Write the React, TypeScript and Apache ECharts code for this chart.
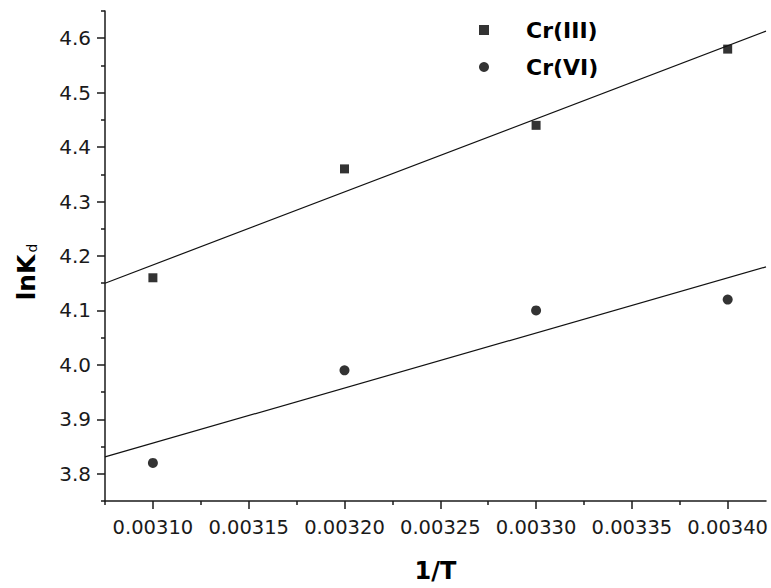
import React, { useEffect, useRef } from "react";
import * as echarts from "echarts";

const xValues = [0.0031, 0.0032, 0.0033, 0.0034];
const crIII = [4.16, 4.36, 4.44, 4.58];
const crVI = [3.82, 3.99, 4.1, 4.12];
// fitted straight lines, ends read at the plot's left and right edges
const fitX = [0.003075, 0.00342];
const fitIII = [4.15, 4.613];
const fitVI = [3.831, 4.18];

const xMajor = [0.0031, 0.00315, 0.0032, 0.00325, 0.0033, 0.00335, 0.0034];
const xMinor = [0.003075, 0.003125, 0.003175, 0.003225, 0.003275, 0.003325, 0.003375];
const yMajor = [3.8, 3.9, 4.0, 4.1, 4.2, 4.3, 4.4, 4.5, 4.6];
const yMinor = [3.75, 3.85, 3.95, 4.05, 4.15, 4.25, 4.35, 4.45, 4.55, 4.65];

const FONT = "DejaVu Sans";
const AX = "#1a1a1a";

export default function App() {
  const ref = useRef<HTMLDivElement>(null);
  useEffect(() => {
    const chart = echarts.init(ref.current!, null, { renderer: "svg" });
    const axisBase = {
      type: "value" as const,
      splitLine: { show: false },
    };
    chart.setOption({
      animation: false,
      backgroundColor: "#fff",
      grid: { left: 105, right: 1, top: 11, bottom: 80 },
      legend: {
        orient: "vertical",
        left: 474,
        top: 14,
        itemWidth: 10,
        itemHeight: 10,
        itemGap: 15,
        data: [
          { name: "Cr(III)", icon: "rect" },
          { name: "Cr(VI)", icon: "circle" },
        ],
        textStyle: {
          fontFamily: FONT,
          fontSize: 22,
          fontWeight: "bold",
          color: "#000",
          lineHeight: 20,
          padding: [0, 0, 0, 32],
        },
      },
      xAxis: [
        {
          ...axisBase,
          min: fitX[0],
          max: fitX[1],
          name: "1/T",
          nameLocation: "middle",
          nameGap: 58,
          nameTextStyle: { fontFamily: FONT, fontSize: 24, fontWeight: "bold", color: "#000" },
          axisLine: { show: true, onZero: false, lineStyle: { color: AX, width: 1.5 } },
          axisTick: { show: true, inside: false, length: 8, customValues: xMajor, lineStyle: { color: AX, width: 1.5 } },
          axisLabel: {
            customValues: xMajor,
            margin: 16,
            fontFamily: FONT,
            fontSize: 19.5,
            color: "#1a1a1a",
            formatter: (v: number) => v.toFixed(5),
          },
        },
        {
          ...axisBase,
          min: fitX[0],
          max: fitX[1],
          position: "bottom",
          axisLine: { show: false },
          axisTick: { show: true, inside: false, length: 4, customValues: xMinor, lineStyle: { color: AX, width: 1.5 } },
          axisLabel: { show: false },
        },
      ],
      yAxis: [
        {
          ...axisBase,
          min: 3.75,
          max: 4.65,
          position: "left",
          name: "{a|lnK}{b|d}",
          nameLocation: "middle",
          nameRotate: 90,
          nameGap: 66,
          nameTextStyle: {
            color: "#000",
            padding: [0, 32, 0, 0],
            rich: {
              a: { fontFamily: FONT, fontSize: 25, fontWeight: "bold", color: "#000" },
              b: { fontFamily: FONT, fontSize: 14, color: "#000", verticalAlign: "bottom", padding: [12, 0, 0, 2] },
            },
          },
          axisLine: { show: true, onZero: false, lineStyle: { color: AX, width: 1.5 } },
          axisTick: { show: true, inside: false, length: 8, customValues: yMajor, lineStyle: { color: AX, width: 1.5 } },
          axisLabel: {
            customValues: yMajor,
            margin: 14,
            fontFamily: FONT,
            fontSize: 20,
            color: "#1a1a1a",
            formatter: (v: number) => v.toFixed(1),
          },
        },
        {
          ...axisBase,
          min: 3.75,
          max: 4.65,
          position: "left",
          offset: 0,
          axisLine: { show: false },
          axisTick: { show: true, inside: false, length: 4, customValues: yMinor, lineStyle: { color: AX, width: 1.5 } },
          axisLabel: { show: false },
        },
      ],
      series: [
        {
          name: "Cr(III)",
          type: "scatter",
          symbol: "rect",
          symbolSize: 9,
          itemStyle: { color: "#000" },
          data: xValues.map((x, i) => [x, crIII[i]]),
        },
        {
          name: "Cr(VI)",
          type: "scatter",
          symbol: "circle",
          symbolSize: 10,
          itemStyle: { color: "#000" },
          data: xValues.map((x, i) => [x, crVI[i]]),
        },
        {
          name: "Fit Cr(III)",
          type: "line",
          symbol: "none",
          lineStyle: { color: "#111", width: 1.2 },
          data: fitX.map((x, i) => [x, fitIII[i]]),
        },
        {
          name: "Fit Cr(VI)",
          type: "line",
          symbol: "none",
          lineStyle: { color: "#111", width: 1.2 },
          data: fitX.map((x, i) => [x, fitVI[i]]),
        },
      ],
    });
    return () => chart.dispose();
  }, []);
  return (
    <div
      ref={ref}
      style={{ position: "absolute", left: 0, top: 0, width: 771, height: 588 }}
    />
  );
}
